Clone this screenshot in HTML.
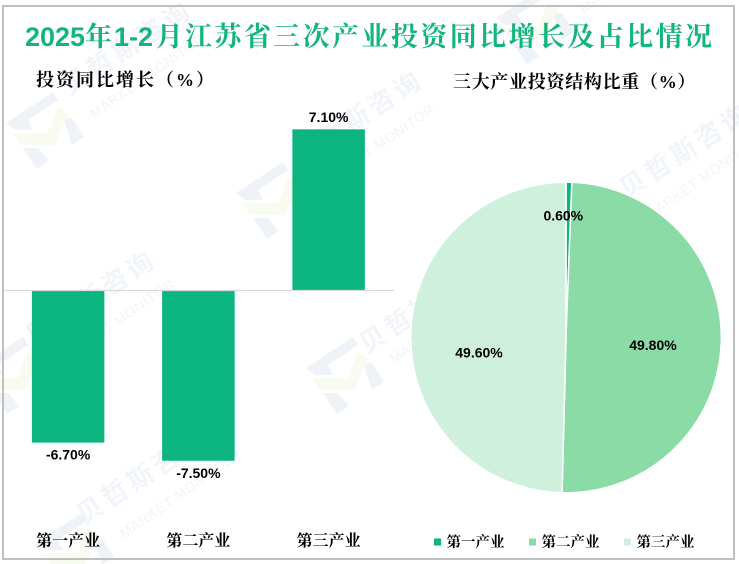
<!DOCTYPE html>
<html lang="zh-CN">
<head>
<meta charset="utf-8">
<title>2025年1-2月江苏省三次产业投资同比增长及占比情况</title>
<style>
html,body{margin:0;padding:0;background:#fff;}
svg{display:block;}
.cjk{font-family:"Liberation Serif","Noto Serif CJK SC",serif;}
.num{font-family:"Liberation Sans","Noto Sans CJK SC",sans-serif;font-weight:bold;}
.wm-cn{font-family:"Liberation Sans","Noto Sans CJK SC",sans-serif;font-weight:bold;font-size:26px;letter-spacing:4px;fill:#f1f4f9;text-anchor:middle;}
.wm-en{font-family:"Liberation Sans",sans-serif;font-size:14px;letter-spacing:0.6px;fill:#f1f4f9;text-anchor:middle;}
</style>
</head>
<body>
<svg id="chart" xmlns="http://www.w3.org/2000/svg" width="739" height="564" viewBox="0 0 739 564">
  <defs>
    <g id="wm-logo">
      <polygon points="-39,-7 8,-38 13,-30 -17,-10 -12,0 -30,0" fill="#eff3f8"/>
      <polygon points="-22,18 -7,18 4,31 -8,39" fill="#eff3f8"/>
      <polygon points="18,-12 27,-12 39,7 27,15" fill="#eff3f8"/>
      <polygon points="-32,3 3,3 13,-23 23,-17 10,15 -25,15" fill="#f8fbf0"/>
    </g>
  </defs>
  <rect x="0" y="0" width="739" height="564" fill="#ffffff"/>

  <g>
    <g transform="translate(45,130)"><use href="#wm-logo"/><text class="wm-cn" transform="translate(87,-75) rotate(-33)">贝哲斯咨询</text><text class="wm-en" transform="translate(105,-50) rotate(-35)">MARKET MONITOR</text></g>
    <g transform="translate(275,200)"><use href="#wm-logo"/><text class="wm-cn" transform="translate(88,-75) rotate(-33)">贝哲斯咨询</text><text class="wm-en" transform="translate(105,-50) rotate(-35)">MARKET MONITOR</text></g>
    <g transform="translate(15,375)"><use href="#wm-logo"/><text class="wm-cn" transform="translate(81,-70) rotate(-33)">贝哲斯咨询</text><text class="wm-en" transform="translate(105,-50) rotate(-35)">MARKET MONITOR</text></g>
    <g transform="translate(345,375)"><use href="#wm-logo"/><text class="wm-cn" transform="translate(85,-62) rotate(-33)">贝哲斯咨询</text><text class="wm-en" transform="translate(105,-50) rotate(-35)">MARKET MONITOR</text></g>
    <g transform="translate(75,550)"><use href="#wm-logo"/><text class="wm-cn" transform="translate(72,-66) rotate(-33)">贝哲斯咨询</text><text class="wm-en" transform="translate(105,-50) rotate(-35)">MARKET MONITOR</text></g>
    <g transform="translate(535,25)"><use href="#wm-logo"/><text class="wm-en" transform="translate(105,-50) rotate(-35)">MARKET MONITOR</text></g>
    <g transform="translate(600,240)"><use href="#wm-logo"/><text class="wm-cn" transform="translate(90,-82) rotate(-33)">贝哲斯咨询</text><text class="wm-en" transform="translate(105,-58) rotate(-35)">MARKET MONITOR</text></g>
  </g>

  <rect x="3" y="6" width="731" height="553" fill="none" stroke="#bfbfbf" stroke-width="2"/>

  <text y="46" fill="#12b480" font-size="27"><tspan class="num" x="25">2025</tspan><tspan class="cjk" x="85" font-weight="bold">年</tspan><tspan class="num" x="114">1-2</tspan><tspan class="cjk" x="156" font-weight="bold">月</tspan><tspan class="cjk" x="185" font-weight="bold" textLength="527" lengthAdjust="spacing">江苏省三次产业投资同比增长及占比情况</tspan></text>

  <text class="cjk" x="36" y="86" font-size="18" font-weight="bold" letter-spacing="2" fill="#000">投资同比增长（%）</text>
  <text class="cjk" x="453" y="88" font-size="18" letter-spacing="0.7" font-weight="bold" fill="#000">三大产业投资结构比重（%）</text>

  <g id="bars"></g>
  <g id="pie"></g>
  <g id="legend"></g>
</svg>

<script>
const categories = ['第一产业', '第二产业', '第三产业'];
const growthValues = [-6.7, -7.5, 7.1];
const shareValues = [0.6, 49.8, 49.6];
const shareColors = ['#0cb57f', '#8adba5', '#cff0dd'];

const SVGNS = 'http://www.w3.org/2000/svg';
function mk(tag, parent, attrs, text) {
  const el = document.createElementNS(SVGNS, tag);
  for (const k in attrs) el.setAttribute(k, attrs[k]);
  if (text !== undefined) el.textContent = text;
  parent.appendChild(el);
  return el;
}
function pct(v) { return v.toFixed(2) + '%'; }

/* Bar chart axes */
const bandStart = 3, bandWidth = 130.25, barWidth = 72.5;
const zeroY = 290.5, unitPx = 22.7;
const xBand = i => bandStart + bandWidth * (i + 0.5);
const yVal = v => zeroY - v * unitPx;

const barsG = document.getElementById('bars');
growthValues.forEach((v, i) => {
  const top = Math.min(yVal(v), zeroY);
  const h = Math.abs(yVal(v) - zeroY);
  const bar = mk('rect', barsG, { x: xBand(i) - barWidth / 2, y: top, width: barWidth, height: h, fill: '#0cb57f' });
  
  
  const labelY = v >= 0 ? yVal(v) - 7.5 : yVal(v) + 17;
  const lab = mk('text', barsG, { x: xBand(i), y: labelY, 'text-anchor': 'middle', class: 'num', 'font-size': 14, fill: '#000' }, pct(v));
  
  
  const cat = mk('text', barsG, { x: xBand(i), y: 546, 'text-anchor': 'middle', class: 'cjk', 'font-size': 16, 'font-weight': 'bold', fill: '#000' }, categories[i]);
  
  
});
const axisLine = mk('line', barsG, { x1: 5, x2: 394, y1: zeroY, y2: zeroY, stroke: '#d9d9d9', 'stroke-width': 1.2 });



/* Pie chart */
const cx = 566, cy = 337.5, r = 155.3;
const pieG = document.getElementById('pie');
const total = shareValues.reduce((a, b) => a + b, 0);
const angleOf = frac => frac * 2 * Math.PI;
const polar = (a, rad) => [cx + rad * Math.sin(a), cy - rad * Math.cos(a)];
let running = 0;
shareValues.forEach((v, i) => {
  const a0 = angleOf(running / total);
  const a1 = angleOf((running + v) / total);
  const p0 = polar(a0, r), p1 = polar(a1, r);
  const large = a1 - a0 > Math.PI ? 1 : 0;
  const d = 'M' + cx + ' ' + cy + ' L' + p0[0] + ' ' + p0[1] + ' A' + r + ' ' + r + ' 0 ' + large + ' 1 ' + p1[0] + ' ' + p1[1] + ' Z';
  const slice = mk('path', pieG, { d: d, fill: shareColors[i], stroke: '#ffffff', 'stroke-width': 1.5 });
  
  
  running += v;
});
running = 0;
shareValues.forEach((v, i) => {
  const mid = angleOf((running + v / 2) / total);
  const small = v / total < 0.05;
  const pos = polar(mid, small ? 122 : 87);
  const nudgeY = small ? 5 : (mid > Math.PI ? 21 : 10);
  const lab = mk('text', pieG, { x: pos[0] + (small ? -5 : 0), y: pos[1] + nudgeY, 'text-anchor': 'middle', class: 'num', 'font-size': 14, fill: '#000' }, pct(v));
  
  
  running += v;
});

/* Legend */
const legendG = document.getElementById('legend');
categories.forEach((c, i) => {
  const x = 434 + i * 95;
  const sw = mk('rect', legendG, { x: x, y: 538.5, width: 7, height: 7, fill: shareColors[i] });
  
  
  const t = mk('text', legendG, { x: x + 12.5, y: 547, class: 'cjk', 'font-size': 14.5, 'font-weight': 'bold', fill: '#000' }, c);
  
  
});
</script>
</body>
</html>
